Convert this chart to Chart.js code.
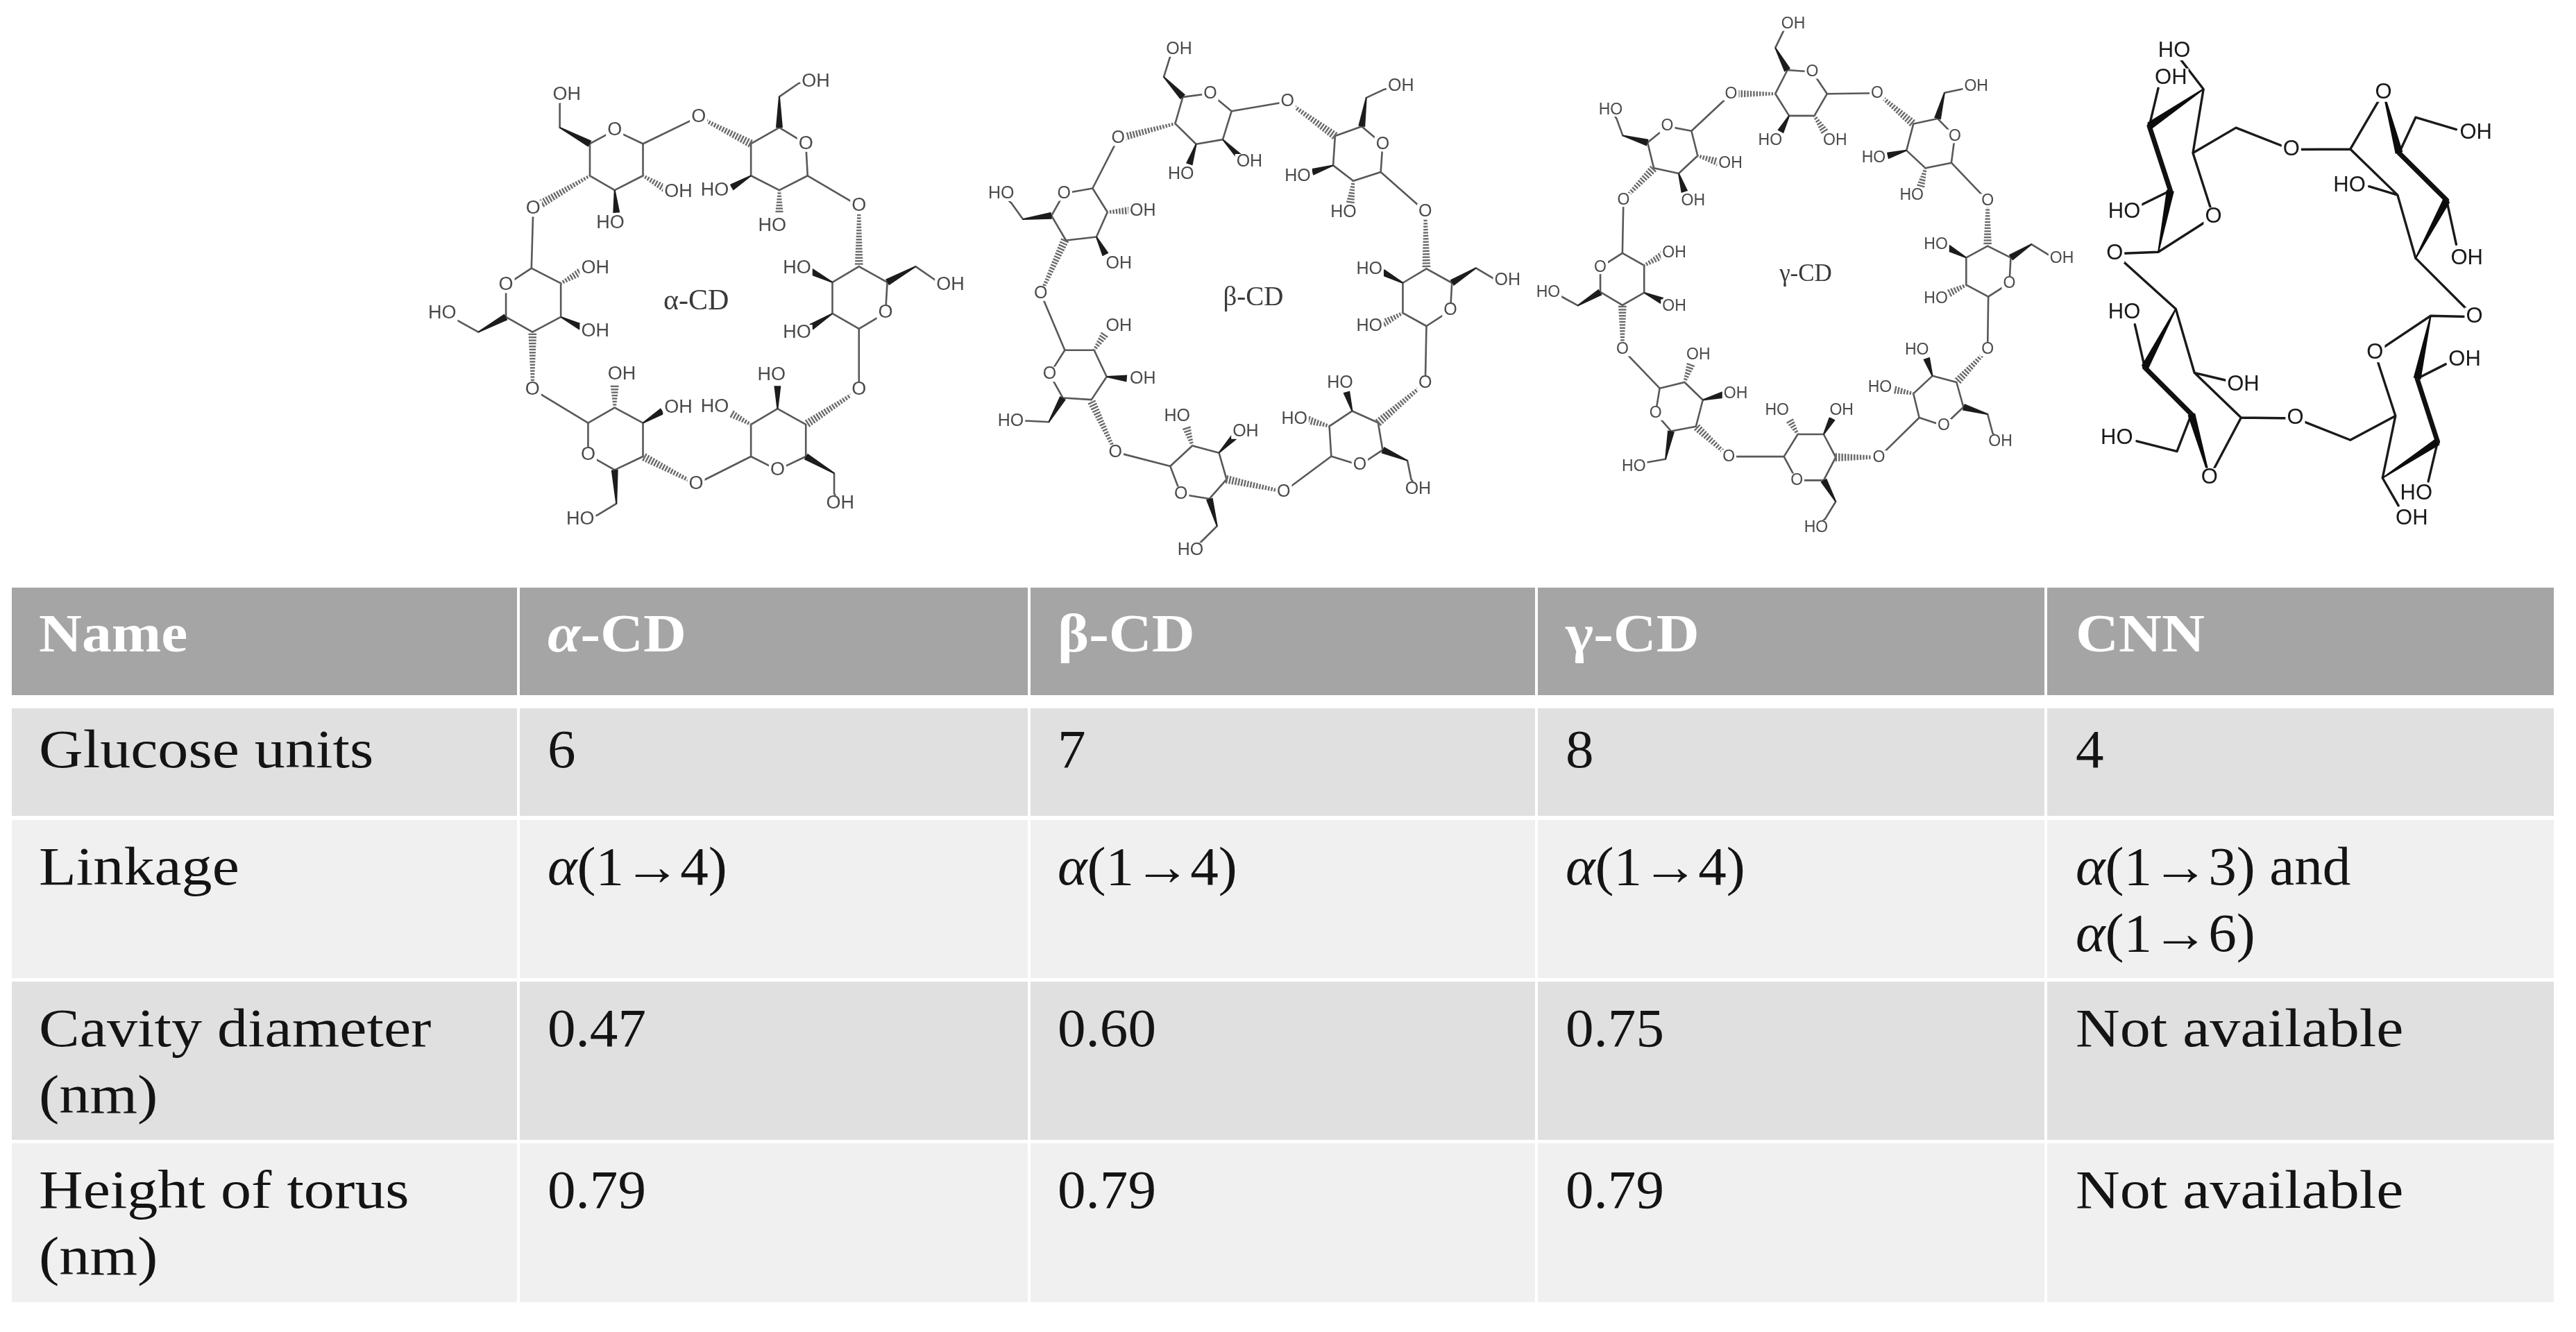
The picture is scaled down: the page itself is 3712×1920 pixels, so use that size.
<!DOCTYPE html>
<html>
<head>
<meta charset="utf-8">
<title>Cyclodextrins</title>
<script src="https://cdn.jsdelivr.net/npm/chart.js@4"></script>
<style>
  html, body { margin: 0; padding: 0; background: #fff; overflow: hidden; }
  canvas { display: block; }
</style>
</head>
<body>
<canvas id="grafico" width="3712" height="1920"></canvas>
<script>
// table contents
const colNames = ['Name', 'α-CD', 'β-CD', 'γ-CD', 'CNN'];
const glucoseUnits = ['Glucose units', '6', '7', '8', '4'];
const linkage = ['Linkage', 'α(1→4)', 'α(1→4)', 'α(1→4)', 'α(1→3) and\nα(1→6)'];
const cavityDiameter = ['Cavity diameter\n(nm)', '0.47', '0.60', '0.75', 'Not available'];
const torusHeight = ['Height of torus\n(nm)', '0.79', '0.79', '0.79', 'Not available'];
const tableRows = [colNames, glucoseUnits, linkage, cavityDiameter, torusHeight];

// table grid, in picture pixels
const colLefts = [17, 749, 1485, 2216, 2950];
const colRights = [745, 1481, 2212, 2946, 3680];
const textLefts = [56, 789, 1524, 2256, 2991];
const rowTops = [847, 1021, 1182, 1415, 1648];
const rowBottoms = [1002, 1176, 1410, 1643, 1877];
const rowFills = ['#a5a5a5', '#e0e0e0', '#f0f0f0', '#e0e0e0', '#f0f0f0'];
const rowBaselines = [[939], [1106], [1275, 1371], [1508, 1604], [1741, 1837]];

const alphaFrame = { ox: 600, oy: 40, kx: 0.5102, ky: 0.4847, name: 'α-CD', nameX: 790, nameY: 815, nameSize: 42, size: 27 };
const alphaRings = [
  [490,345, 560,305, 640,345, 640,440, 560,483, 490,440],
  [945,345, 1025,297, 1100,345, 1105,440, 1025,483, 945,440],
  [1250,710, 1330,757, 1325,848, 1250,895, 1175,850, 1175,757],
  [1100,1180, 1020,1133, 945,1180, 945,1275, 1020,1315, 1100,1275],
  [640,1275, 640,1175, 560,1130, 485,1175, 485,1270, 560,1315],
  [328,905, 408,860, 408,760, 325,715, 253,765, 253,860]
];
const alphaPlain = [
  [640,345, 797,265], [1105,440, 1250,530], [1250,895, 1250,1077], [945,1275, 790,1357],
  [485,1175, 328,1075], [325,715, 330,538],
  [405,297, 405,225, 425,200], [1025,205, 1080,165, 1128,160], [1410,710, 1465,750, 1508,765],
  [1180,1325, 1180,1385, 1197,1415], [565,1415, 510,1450, 463,1462], [175,905, 115,870, 73,850]
];
const alphaWedges = [
  [405,297, 490,345], [560,483, 565,550], [1025,205, 1025,297], [945,440, 890,475],
  [1175,757, 1115,725], [1410,710, 1330,757], [1175,850, 1115,890], [1020,1133, 1020,1065],
  [1180,1325, 1100,1275], [640,1175, 695,1140], [565,1415, 560,1315], [408,860, 465,890], [175,905, 253,860]
];
const alphaHashes = [
  [640,440, 705,480], [490,440, 355,522], [797,265, 945,345], [1025,483, 1025,555],
  [1250,530, 1250,710], [1250,1077, 1100,1180], [945,1180, 885,1145], [790,1357, 640,1275],
  [560,1130, 560,1065], [328,1075, 328,905], [408,760, 465,725]
];
const alphaLabels = [
  ['OH',425,200], ['O',560,305], ['O',797,265], ['OH',1128,160], ['O',1100,345], ['OH',740,487], ['HO',843,483],
  ['HO',548,580], ['HO',1005,590], ['O',330,538], ['O',1250,530], ['OH',505,715], ['HO',1075,715], ['O',253,765],
  ['OH',1508,765], ['O',1325,848], ['HO',73,850], ['OH',505,903], ['HO',1075,907], ['OH',580,1030], ['HO',1003,1033],
  ['O',328,1075], ['O',1250,1077], ['OH',740,1130], ['HO',843,1128], ['O',485,1270], ['O',1020,1315], ['O',790,1357],
  ['OH',1197,1415], ['HO',463,1462]
];

// beta-CD structure
const betaFrame = { ox: 1400, oy: 20, kx: 0.5485, ky: 0.5102, name: 'β-CD', nameX: 740, nameY: 803, nameSize: 39, size: 25 };
const betaRings = [
  [555,235, 627,225, 683,275, 660,355, 590,368, 535,310],
  [955,345, 1025,318, 1080,368, 1075,447, 1003,472, 950,428],
  [1195,720, 1262,760, 1258,838, 1195,882, 1133,845, 1133,760],
  [1068,1155, 1000,1122, 940,1165, 945,1250, 1020,1275, 1080,1232],
  [670,1315, 650,1240, 580,1220, 522,1278, 550,1357, 625,1370],
  [315,1090, 355,1025, 322,950, 245,950, 205,1018, 240,1085],
  [248,640, 328,630, 357,560, 318,493, 243,507, 210,570]
];
const betaPlain = [
  [683,275, 830,248], [385,352, 318,493], [1075,447, 1192,558], [1195,882, 1192,1043], [945,1250, 820,1350],
  [522,1278, 378,1238], [245,950, 182,790],
  [505,178, 522,120, 545,100], [1037,237, 1085,213, 1128,205], [1325,718, 1375,750, 1408,752],
  [1145,1262, 1155,1315, 1173,1342], [645,1447, 600,1495, 575,1515], [203,1153, 150,1150, 103,1150], [135,580, 105,535, 78,508]
];
const betaWedges = [
  [505,178, 555,235], [590,368, 572,425], [660,355, 705,405], [1037,237, 1025,318], [950,428, 895,447],
  [1133,760, 1080,730], [1325,718, 1262,760], [1000,1122, 985,1068], [1145,1262, 1080,1232], [650,1240, 690,1195],
  [645,1447, 625,1370], [355,1025, 408,1030], [203,1153, 240,1085], [328,630, 352,680], [135,580, 210,570]
];
const betaHashes = [
  [535,310, 385,352], [830,248, 955,345], [1003,472, 995,535], [1192,558, 1195,720], [1133,845, 1080,875],
  [1192,1043, 1068,1155], [940,1165, 885,1148], [820,1350, 670,1315], [580,1220, 565,1170], [378,1238, 315,1095],
  [322,950, 350,905], [182,790, 245,640], [357,560, 420,555]
];
const betaLabels = [
  ['OH',545,100], ['OH',1128,205], ['O',627,225], ['O',830,248], ['O',385,352], ['O',1080,368], ['OH',730,417],
  ['HO',550,453], ['HO',857,458], ['HO',78,508], ['O',243,507], ['OH',450,557], ['HO',977,560], ['O',1192,558],
  ['OH',387,705], ['HO',1045,722], ['OH',1408,752], ['O',182,790], ['O',1258,838], ['OH',387,883], ['HO',1045,883],
  ['O',205,1018], ['OH',450,1032], ['HO',968,1042], ['O',1192,1043], ['HO',540,1137], ['HO',848,1145], ['HO',103,1150],
  ['OH',720,1180], ['O',378,1238], ['O',1020,1275], ['OH',1173,1342], ['O',820,1350], ['O',550,1357], ['HO',575,1515]
];

// gamma-CD structure
const gammaFrame = { ox: 2220, oy: 0, kx: 0.4974, ky: 0.5102, name: 'γ-CD', nameX: 768, nameY: 775, nameSize: 35, size: 23 };
const gammaRings = [
  [715,198, 787,203, 830,265, 793,327, 720,327, 680,265],
  [1080,350, 1150,335, 1200,385, 1190,460, 1115,475, 1060,425],
  [1295,695, 1362,728, 1358,800, 1297,838, 1233,805, 1233,728],
  [1205,1080, 1135,1062, 1080,1112, 1097,1180, 1168,1203, 1225,1150],
  [855,1292, 820,1227, 745,1227, 705,1290, 742,1357, 820,1357],
  [450,1205, 378,1218, 333,1168, 345,1097, 417,1080, 470,1130],
  [237,862, 300,827, 300,750, 237,715, 173,755, 173,825],
  [328,475, 400,490, 455,440, 437,370, 367,357, 310,403]
];
const gammaPlain = [
  [830,265, 975,263], [552,265, 437,370], [1190,460, 1295,567], [1297,838, 1295,987], [1097,1180, 980,1292],
  [705,1290, 545,1290], [345,1097, 237,987], [237,715, 240,565],
  [680,135, 705,85, 732,68], [1170,262, 1230,250, 1262,245], [1422,690, 1475,722, 1510,730],
  [1295,1170, 1310,1225, 1332,1247], [855,1417, 825,1465, 798,1490], [362,1297, 305,1307, 270,1318],
  [108,863, 55,835, 22,827], [238,383, 220,335, 203,310]
];
const gammaWedges = [
  [680,135, 715,198], [720,327, 695,372], [1170,262, 1150,335], [1060,425, 1005,440], [1233,728, 1180,700],
  [1422,690, 1362,728], [1135,1062, 1118,1012], [1295,1170, 1225,1150], [820,1227, 845,1182], [855,1417, 820,1357],
  [470,1130, 530,1115], [362,1297, 378,1218], [300,827, 352,850], [108,863, 173,825], [400,490, 417,542], [238,383, 310,403]
];
const gammaHashes = [
  [793,327, 825,375], [680,265, 552,265], [975,263, 1080,350], [1115,475, 1100,530], [1295,567, 1295,695],
  [1233,805, 1180,830], [1295,987, 1205,1080], [1080,1112, 1020,1100], [980,1292, 855,1292], [745,1227, 720,1185],
  [545,1290, 450,1205], [417,1080, 435,1030], [237,987, 237,862], [300,750, 355,720], [240,565, 328,475], [455,440, 515,458]
];
const gammaLabels = [
  ['OH',732,68], ['O',787,203], ['OH',1262,245], ['O',552,265], ['O',975,263], ['HO',203,310], ['O',367,357], ['O',1200,385],
  ['HO',665,397], ['OH',853,397], ['HO',965,447], ['OH',550,462], ['HO',1075,552], ['O',240,565], ['OH',442,568], ['O',1295,567],
  ['HO',1145,692], ['OH',387,715], ['OH',1510,730], ['O',173,755], ['O',1358,800], ['HO',22,827], ['HO',1145,845], ['OH',387,865],
  ['O',237,987], ['O',1295,987], ['HO',1090,990], ['OH',457,1002], ['HO',983,1095], ['OH',565,1113], ['OH',872,1160], ['HO',685,1160],
  ['O',333,1168], ['O',1168,1203], ['OH',1332,1247], ['O',545,1290], ['O',980,1292], ['HO',270,1318], ['O',742,1357], ['HO',798,1490]
];

// CNN structure
const cnnFrame = { ox: 2980, oy: 20, kx: 0.4337, ky: 0.4974, size: 31 };
const cnnPlain = [
  [300,690, 483,588, 415,403, 450,218], [450,218, 353,108], [270,325, 300,215], [340,512, 245,553],
  [415,403, 558,330, 742,393, 938,392], [155,695, 300,690], [155,695, 358,855],
  [938,392, 1048,228], [1100,403, 1155,300, 1290,335], [938,392, 1095,525, 1155,708], [1095,525, 1000,500],
  [1258,540, 1290,668], [1155,708, 1350,878],
  [1350,878, 1205,875, 1020,983, 1088,1165], [1045,1345, 1088,1165], [1160,1057, 1255,1015], [1228,1240, 1197,1355],
  [1045,1345, 1098,1425], [1088,1165, 938,1235, 755,1172, 575,1170],
  [575,1170, 470,1343], [410,1160, 362,1268, 228,1238], [358,855, 420,1040, 575,1170], [420,1040, 525,1062], [255,1025, 222,900]
];
const cnnBold = [
  [270,325, 340,512], [1100,403, 1258,540], [1160,1057, 1228,1240], [410,1160, 255,1025]
];
const cnnWedges = [
  [450,218, 270,325], [300,690, 340,512], [1048,228, 1100,403], [1155,708, 1258,540],
  [1205,875, 1160,1057], [1045,1345, 1228,1240], [470,1343, 410,1160], [358,855, 255,1025]
];
const cnnLabels = [
  ['HO',353,108], ['OH',342,185], ['O',1048,228], ['OH',1355,345], ['O',742,393], ['HO',935,497], ['HO',187,573],
  ['O',483,588], ['O',155,695], ['OH',1325,708], ['HO',187,865], ['O',1350,878], ['O',1020,983], ['OH',1318,1002],
  ['OH',582,1075], ['O',755,1172], ['HO',162,1230], ['O',470,1343], ['HO',1157,1390], ['OH',1142,1463]
];

const SERIF = '"Liberation Serif"';
const SANS = '"Liberation Sans"';

// point of a crop -> picture coordinates
function framePoint(frame, x, y) {
  return { x: frame.ox + x * frame.kx, y: frame.oy + y * frame.ky };
}

// several polylines -> one dataset, broken by empty points
function bondDataset(frame, lines, color, width, closed) {
  const data = [];
  lines.forEach((line) => {
    for (let i = 0; i < line.length; i += 2) data.push(framePoint(frame, line[i], line[i + 1]));
    if (closed) data.push(framePoint(frame, line[0], line[1]));
    data.push({ x: NaN, y: NaN });
  });
  return {
    data: data, showLine: true, spanGaps: false, pointRadius: 0, fill: false,
    borderColor: color, borderWidth: width, borderCapStyle: 'round', borderJoinStyle: 'round'
  };
}

const datasets = [];

// one dataset per table cell, filled down to the bottom of its row
rowTops.forEach((top, r) => {
  colLefts.forEach((left, c) => {
    datasets.push({
      data: [{ x: left, y: top }, { x: colRights[c], y: top }],
      showLine: true, pointRadius: 0, borderWidth: 0,
      backgroundColor: rowFills[r],
      fill: { target: { value: rowBottoms[r] } }
    });
  });
});

const BOND = '#585858';
datasets.push(bondDataset(alphaFrame, alphaRings, BOND, 2.6, true));
datasets.push(bondDataset(alphaFrame, alphaPlain, BOND, 2.6, false));
datasets.push(bondDataset(betaFrame, betaRings, BOND, 2.6, true));
datasets.push(bondDataset(betaFrame, betaPlain, BOND, 2.6, false));
datasets.push(bondDataset(gammaFrame, gammaRings, BOND, 2.6, true));
datasets.push(bondDataset(gammaFrame, gammaPlain, BOND, 2.6, false));
datasets.push(bondDataset(cnnFrame, cnnPlain, '#1a1a1a', 3.4, false));
datasets.push(bondDataset(cnnFrame, cnnBold, '#111111', 7, false));

const molecules = [
  { frame: alphaFrame, wedges: alphaWedges, hashes: alphaHashes, labels: alphaLabels, wedgeColor: '#1c1c1c', textColor: '#4a4a4a' },
  { frame: betaFrame, wedges: betaWedges, hashes: betaHashes, labels: betaLabels, wedgeColor: '#1c1c1c', textColor: '#4a4a4a' },
  { frame: gammaFrame, wedges: gammaWedges, hashes: gammaHashes, labels: gammaLabels, wedgeColor: '#1c1c1c', textColor: '#4a4a4a' },
  { frame: cnnFrame, wedges: cnnWedges, hashes: [], labels: cnnLabels, wedgeColor: '#0c0c0c', textColor: '#1a1a1a', wide: 11 }
];

// wedge bonds, hashed bonds and atom labels, placed through the chart scales
const moleculePlugin = {
  id: 'moleculePlugin',
  afterDatasetsDraw(chart) {
    const ctx = chart.ctx;
    const sx = chart.scales.x;
    const sy = chart.scales.y;
    const px = (frame, x, y) => {
      const p = framePoint(frame, x, y);
      return { x: sx.getPixelForValue(p.x), y: sy.getPixelForValue(p.y) };
    };
    ctx.save();
    molecules.forEach((m) => {
      ctx.fillStyle = m.wedgeColor;
      m.wedges.forEach((w) => {
        const a = px(m.frame, w[0], w[1]);
        const b = px(m.frame, w[2], w[3]);
        const len = Math.hypot(b.x - a.x, b.y - a.y);
        const nx = -(b.y - a.y) / len;
        const ny = (b.x - a.x) / len;
        const half = (m.wide || 10) / 2;
        ctx.beginPath();
        ctx.moveTo(a.x + nx, a.y + ny);
        ctx.lineTo(a.x - nx, a.y - ny);
        ctx.lineTo(b.x - nx * half, b.y - ny * half);
        ctx.lineTo(b.x + nx * half, b.y + ny * half);
        ctx.closePath();
        ctx.fill();
      });
      ctx.strokeStyle = '#6a6a6a';
      ctx.lineWidth = 2.4;
      m.hashes.forEach((h) => {
        const a = px(m.frame, h[0], h[1]);
        const b = px(m.frame, h[2], h[3]);
        const len = Math.hypot(b.x - a.x, b.y - a.y);
        const nx = -(b.y - a.y) / len;
        const ny = (b.x - a.x) / len;
        for (let d = 0; d <= len; d += 4.4) {
          const t = d / len;
          const half = 2 + t * 4;
          const cx = a.x + (b.x - a.x) * t;
          const cy = a.y + (b.y - a.y) * t;
          ctx.beginPath();
          ctx.moveTo(cx - nx * half, cy - ny * half);
          ctx.lineTo(cx + nx * half, cy + ny * half);
          ctx.stroke();
        }
      });
      ctx.font = m.frame.size + 'px ' + SANS;
      ctx.textAlign = 'center';
      ctx.textBaseline = 'middle';
      m.labels.forEach((l) => {
        const p = px(m.frame, l[1], l[2]);
        const w = ctx.measureText(l[0]).width + 4;
        const h = m.frame.size * 0.86;
        ctx.fillStyle = '#ffffff';
        ctx.fillRect(p.x - w / 2, p.y - h / 2, w, h);
        ctx.fillStyle = m.textColor;
        ctx.fillText(l[0], p.x, p.y);
      });
      if (m.frame.name) {
        const p = px(m.frame, m.frame.nameX, m.frame.nameY);
        ctx.font = m.frame.nameSize + 'px ' + SERIF;
        ctx.fillStyle = '#3a3a3a';
        ctx.fillText(m.frame.name, p.x, p.y);
      }
    });
    ctx.restore();
  }
};

// table text, alpha set in italics as in the original; glyphs widened a bit
// because the original face is wider than Liberation Serif
function drawRich(ctx, text, x, y, size, weight, stretch) {
  ctx.save();
  ctx.translate(x, y);
  ctx.scale(stretch, 1);
  let cur = 0;
  for (const part of text.split(/(α)/)) {
    if (!part) continue;
    ctx.font = (part === 'α' ? 'italic ' : '') + weight + ' ' + size + 'px ' + SERIF;
    ctx.fillText(part, cur, 0);
    cur += ctx.measureText(part).width;
  }
  ctx.restore();
}

function stretchFor(r, line) {
  if (r === 0) return 1.1;
  return /^[A-Za-z (]+\)?$/.test(line) ? 1.13 : 1.04;
}

const tablePlugin = {
  id: 'tablePlugin',
  afterDatasetsDraw(chart) {
    const ctx = chart.ctx;
    const sx = chart.scales.x;
    const sy = chart.scales.y;
    ctx.save();
    ctx.textAlign = 'left';
    ctx.textBaseline = 'alphabetic';
    tableRows.forEach((row, r) => {
      ctx.fillStyle = r === 0 ? '#ffffff' : '#141414';
      row.forEach((cell, c) => {
        cell.split('\n').forEach((line, i) => {
          drawRich(ctx, line, sx.getPixelForValue(textLefts[c]), sy.getPixelForValue(rowBaselines[r][i]), 78, r === 0 ? 'bold' : 'normal', stretchFor(r, line));
        });
      });
    });
    ctx.restore();
  }
};

new Chart(document.getElementById('grafico'), {
  type: 'scatter',
  data: { datasets: datasets },
  options: {
    responsive: false,
    devicePixelRatio: 1,
    animation: false,
    layout: { padding: 0 },
    plugins: { legend: { display: false }, tooltip: { enabled: false } },
    scales: {
      x: { type: 'linear', min: 0, max: 3712, display: false },
      y: { type: 'linear', min: 0, max: 1920, reverse: true, display: false }
    }
  },
  plugins: [moleculePlugin, tablePlugin]
});
</script>
</body>
</html>
